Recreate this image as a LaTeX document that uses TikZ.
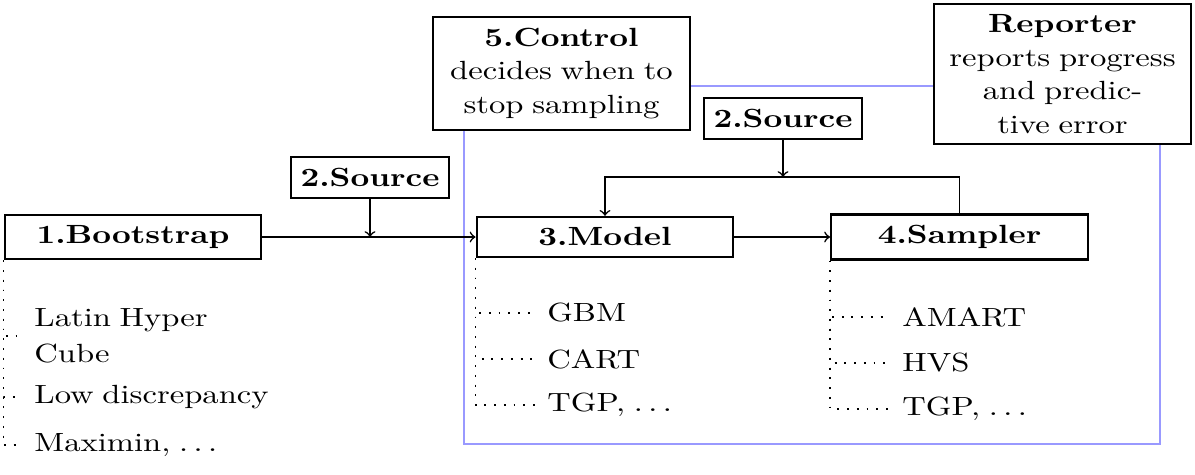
\documentclass[tikz,border=0pt]{standalone}
\usepackage{fontspec}
\setmainfont{lmroman10}[Extension=.otf,UprightFont=*-regular,
  BoldFont=*-bold,ItalicFont=*-italic,FakeStretch=1.24]
\newcommand\spaceddots{.\kern\fontdimen3\font.\kern\fontdimen3\font.}
\tikzset{>=to}
\colorlet{myframeblue}{blue!40}
\tikzset{
  stage/.style={draw,thick,fill=white,text width=90.4pt,align=center,
    inner xsep=3.6pt,inner ysep=4.1pt,font=\fontsize{10}{12.7}\selectfont},
  srcbox/.style={draw,thick,fill=white,inner xsep=3.6pt,inner ysep=4.1pt,
    font=\bfseries},
  item/.style={anchor=west,text width=94pt,align=left,inner xsep=4.5pt,
    inner ysep=0pt,font=\fontsize{10}{13.5}\selectfont},
  link/.style={semithick},
  sublink/.style={line width=0.7pt,dash pattern=on 0.7pt off 3pt},
}
\begin{document}
\begin{tikzpicture}[x=0.38pt,y=-0.38pt]
  \useasboundingbox (0,0) rectangle (1195,474);
  % frame round model and sampler
  \draw[myframeblue,semithick] (464,86) rectangle (1160,444);
  \node[stage] (boot) at (133,237) {\textbf{1.Bootstrap}};
  \node[stage] (model) at (605,237) {\textbf{3.Model}};
  \node[stage] (sampler) at (959.5,237) {\textbf{4.Sampler}};
  \node[srcbox] (srcA) at (370,177.5) {2.Source};
  \node[srcbox] (srcB) at (783,118.5) {2.Source};
  \node[stage] (control) at (561.5,73.5)
    {\textbf{5.Control}\\decides when to stop sampling};
  \node[stage] (reporter) at (1062.5,74)
    {\textbf{Reporter}\\reports progress and predictive error};
  \coordinate (fork) at (783,177);
  \draw[link,->] (boot) -- (model);
  \draw[link,->] (srcA) -- (srcA |- boot);
  \draw[link,->] (model) -- (sampler);
  \draw[link,->] (sampler.north) |- (fork) -| (model.north);
  \draw[link,->] (srcB) -- (fork);
  % bootstrap designs
  \node[item] (lhc) at (22,336) {Latin Hyper Cube};
  \node[item] (lowdisc) at (22,397) {Low discrepancy};
  \node[item] (maximin) at (22,445) {Maximin, \spaceddots};
  \foreach \c in {lhc,lowdisc,maximin}
    \draw[sublink] (boot.south west) |- (\c.west);
  % models
  \node[item] (gbm) at (535,313) {GBM};
  \node[item] (cart) at (535,359) {CART};
  \node[item] (tgpm) at (535,405) {TGP, \spaceddots};
  \foreach \c in {gbm,cart,tgpm}
    \draw[sublink] (model.south west) |- (\c.west);
  % samplers
  \node[item] (amart) at (890,317) {AMART};
  \node[item] (hvs) at (890,363) {HVS};
  \node[item] (tgps) at (890,409) {TGP, \spaceddots};
  \foreach \c in {amart,hvs,tgps}
    \draw[sublink] (sampler.south west) |- (\c.west);
\end{tikzpicture}
\end{document}
